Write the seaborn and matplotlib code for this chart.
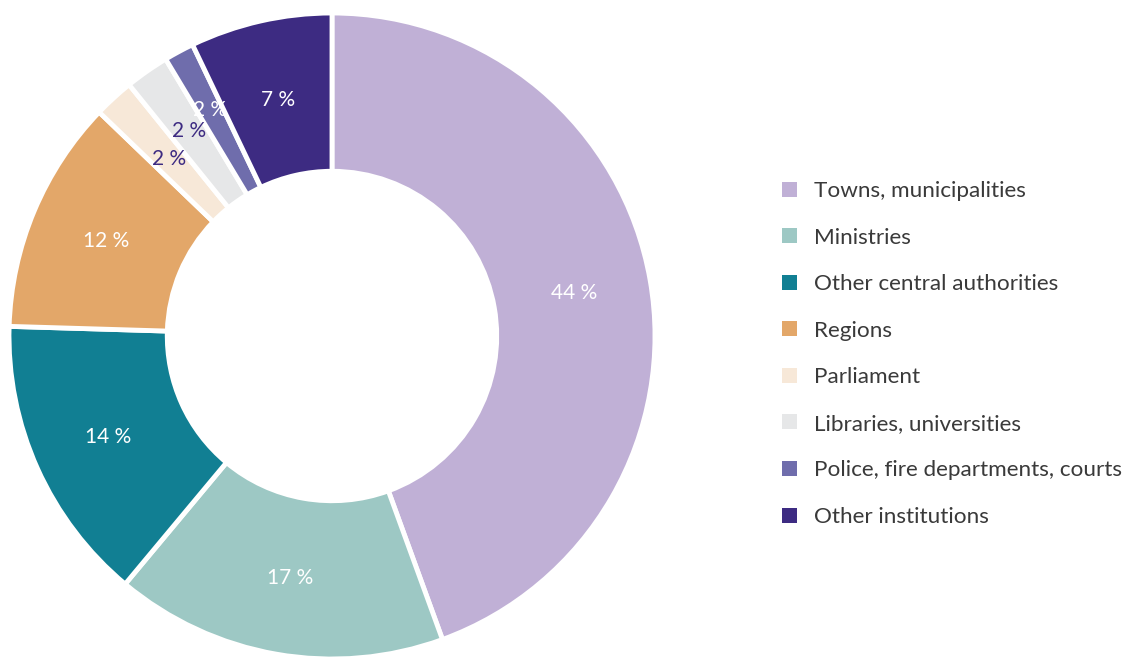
import matplotlib
matplotlib.use("Agg")
import matplotlib.pyplot as plt
import numpy as np
import seaborn as sns

# --- data ---
categories = [
    "Towns, municipalities",
    "Ministries",
    "Other central authorities",
    "Regions",
    "Parliament",
    "Libraries, universities",
    "Police, fire departments, courts",
    "Other institutions",
]
shares = [44.4, 16.6, 14.4, 11.7, 2.0, 2.2, 1.5, 7.1]
pct_labels = ["44 %", "17 %", "14 %", "12 %", "2 %", "2 %", "2 %", "7 %"]
colors = ["#c0b0d6", "#9dc8c4", "#117f93", "#e3a769",
          "#f7e8d8", "#e6e7e8", "#6f6dac", "#3d2b82"]
label_colors = ["white", "white", "white", "white",
                "#3d2b82", "#3d2b82", "white", "white"]

sns.set_theme(style="white")
plt.rcParams["font.family"] = ["Lato", "DejaVu Sans"]

W, H = 1134, 658
fig = plt.figure(figsize=(W / 100, H / 100), dpi=100)
fig.patch.set_facecolor("white")

# pie axes: centre ~ (332, 336) px, radius ~ 323 px
R = 323
cx, cy = 332, H - 336
ax = fig.add_axes([(cx - R) / W, (cy - R) / H, 2 * R / W, 2 * R / H])

inner = 0.51
wedges, _ = ax.pie(
    shares,
    colors=colors,
    startangle=90,
    counterclock=False,
    radius=1.0,
    wedgeprops=dict(width=1 - inner, edgecolor="white", linewidth=3.5),
)
ax.set_xlim(-1, 1)
ax.set_ylim(-1, 1)
ax.set_aspect("equal")
ax.axis("off")
for w in wedges:
    w.set_clip_on(False)

# percent labels at mid-ring (small slices nudged outward a bit)
label_r = [0.76, 0.76, 0.76, 0.76, 0.745, 0.775, 0.795, 0.75]
for w, txt, c, r in zip(wedges, pct_labels, label_colors, label_r):
    ang = np.deg2rad((w.theta1 + w.theta2) / 2)
    ax.text(r * np.cos(ang), r * np.sin(ang), txt, color=c,
            fontsize=15, ha="center", va="center")

# legend
handles = [plt.Rectangle((0, 0), 1, 1, facecolor=c, edgecolor="none") for c in colors]
fig.legend(
    handles, categories,
    loc="center left",
    bbox_to_anchor=(762 / W, 1 - 354 / H),
    frameon=False,
    fontsize=16.2,
    labelcolor="#3a3a3a",
    handlelength=0.65,
    handleheight=0.65,
    handletextpad=0.75,
    labelspacing=1.18,
)

fig.savefig("out.png", dpi=100, facecolor="white")
